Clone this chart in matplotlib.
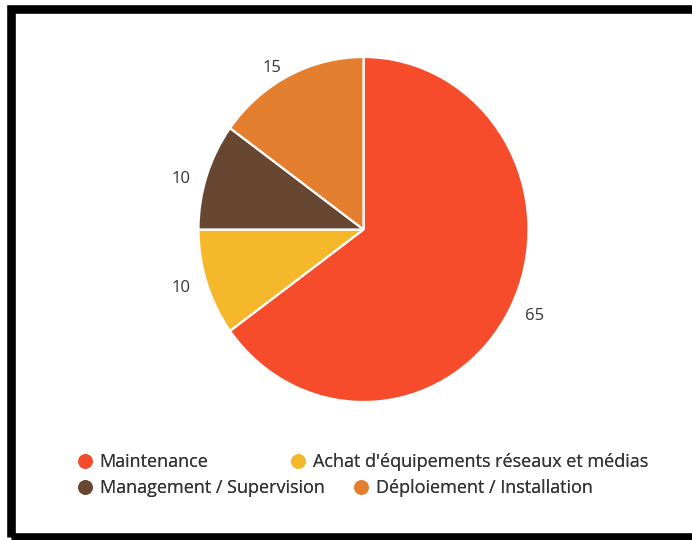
import matplotlib
matplotlib.use("Agg")
import matplotlib.pyplot as plt
from matplotlib.lines import Line2D
from matplotlib.patches import Rectangle

plt.rcParams['font.family'] = ['Open Sans', 'DejaVu Sans']

# data
categories = ["Maintenance", "Achat d'équipements réseaux et médias",
              "Management / Supervision", "Déploiement / Installation"]
values = [65, 10, 10, 15]
colors = ["#F74C2B", "#F5B82A", "#674632", "#E57F30"]

W, H = 692, 540
fig = plt.figure(figsize=(W / 100, H / 100), dpi=100)

# pie area in pixels (image is slightly stretched vertically)
px_left, px_right, px_top, px_bottom = 198.5, 528.5, 57, 402
ax = fig.add_axes([px_left / W, 1 - px_bottom / H,
                   (px_right - px_left) / W, (px_bottom - px_top) / H])

wedges, texts = ax.pie(values, colors=colors, startangle=90, counterclock=False,
                       labels=[str(v) for v in values], labeldistance=1.1,
                       wedgeprops=dict(edgecolor="white", linewidth=1.6),
                       textprops=dict(fontsize=12, color="#333333"))
# labels on the upper half sit a little lower, like the original
for t in texts:
    if t.get_position()[1] > 0:
        t.set_va('top')
ax.set_aspect('auto')
ax.set_xlim(-1, 1)
ax.set_ylim(-1, 1)
ax.axis('off')

# legend: two rows, flowing items like the original
handles = [Line2D([], [], marker='o', linestyle='none', markersize=9.5,
                  markerfacecolor=c, markeredgecolor=c) for c in colors]
rows = [(0, 1, 462, 4.55), (2, 3, 488, 1.65)]
for i, j, y, spacing in rows:
    leg = fig.legend([handles[i], handles[j]], [categories[i], categories[j]],
                     loc='center left', bbox_to_anchor=(77.5 / W, 1 - y / H),
                     ncol=2, frameon=False, fontsize=13, borderpad=0,
                     borderaxespad=0, handlelength=0.8, handletextpad=0.42,
                     columnspacing=spacing, labelcolor="#333333")
    fig.add_artist(leg)

# black frame (top, left, bottom)
fig.add_artist(Rectangle((10.5 / W, 3.5 / H), 700 / W, (536.5 - 8.5) / H,
                         transform=fig.transFigure, fill=False,
                         edgecolor="black", linewidth=6.2))

fig.savefig("out.png", dpi=100)
